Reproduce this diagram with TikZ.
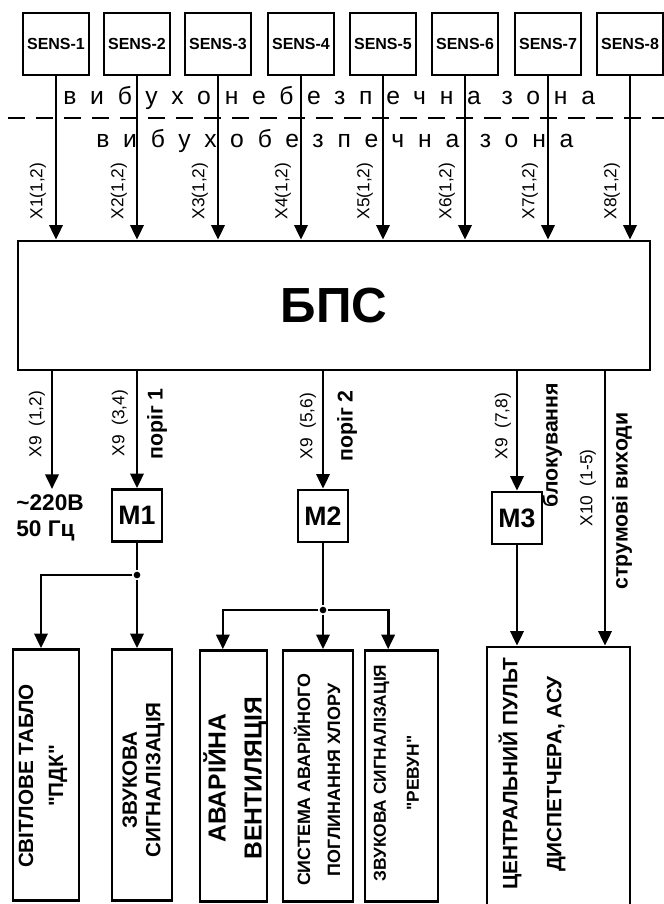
\documentclass[tikz,border=0pt]{standalone}
\usepackage{fontspec}
\setmainfont{Liberation Sans}
\newfontfamily\zonefont[LetterSpace=56]{Liberation Sans}
\usetikzlibrary{arrows.meta}

\begin{document}
\begin{tikzpicture}[
    x=0.75pt, y=-0.75pt, line width=2pt,
    sensor/.style={rectangle, draw, minimum width=49.5pt, minimum height=46.5pt, inner sep=0pt, font=\bfseries\fontsize{12}{14}\selectfont},
    unit/.style={rectangle, draw, minimum width=474pt, minimum height=96.75pt, font=\bfseries\fontsize{37}{40}\selectfont},
    module/.style={rectangle, draw, minimum width=37.5pt, minimum height=39pt, inner sep=0pt, font=\bfseries\fontsize{20}{22}\selectfont},
    output/.style={rectangle, draw, minimum height=188.25pt},
    zone/.style={anchor=base west, inner sep=0pt, font=\zonefont\fontsize{18.5}{20}\selectfont},
    boxtext/.style={rotate=90, align=center, inner sep=0pt},
    pin/.style={rotate=90, inner sep=0pt, font=\fontsize{13}{15}\selectfont},
    note/.style={rotate=90, inner sep=0pt, font=\bfseries\fontsize{16}{18}\selectfont},
    arrow/.style={-{Triangle[length=11pt, width=10pt]}},
    dot/.style={circle, fill, inner sep=0pt, minimum size=5pt}
]
    \useasboundingbox (0,0) rectangle (664,904);

    % Sensors
    \foreach \i/\x in {1/56, 2/137, 3/218, 4/301, 5/383, 6/465, 7/548, 8/630}{
        \node[sensor] (s\i) at (\x,44) {SENS-\i};
        \node[pin] (x\i) at (\x-18,191) {X\i(1,2)};
    }

    % Zone border
    \coordinate (zl) at (8,118);
    \coordinate (zr) at (664,118);
    \draw[dashed, dash pattern=on 13pt off 8pt, line width=1.8pt] (zl) -- (zr);
    \node[zone] (hazard) at (62,104) {вибухонебезпечна зона};
    \node[zone] (safe) at (95,147) {вибухобезпечна зона};

    % Main unit
    \node[unit] (bps) at (334,305.5) {БПС};
    \foreach \i in {1,...,8}
        \draw[arrow] (s\i) -- (s\i |- bps.north);

    % Modules
    \node[module] (m1) at (137,515.5) {M1};
    \node[module] (m2) at (323,516) {M2};
    \node[module] (m3) at (517,518) {M3};
    \node[align=left, anchor=north west, inner sep=0pt, font=\bfseries\fontsize{17}{20}\selectfont] (mains) at (15,493) {\textasciitilde220В\\50 Гц};
    \coordinate (c9) at (52,489);
    \coordinate (c10) at (605,489);

    \draw[arrow] (c9 |- bps.south) -- (c9);
    \draw[arrow] (m1 |- bps.south) -- (m1);
    \draw[arrow] (m2 |- bps.south) -- (m2);
    \draw[arrow] (m3 |- bps.south) -- (m3);

    \node[pin] (l1) at (37,424) {X9\ \ (1,2)};
    \node[pin] (l2) at (120,423) {X9\ \ (3,4)};
    \node[note] (n1) at (157,424) {поріг 1};
    \node[pin] (l3) at (308,426) {X9\ \ (5,6)};
    \node[note] (n2) at (347,426) {поріг 2};
    \node[pin] (l4) at (503,426) {X9\ \ (7,8)};
    \node[note] (n3) at (552,445) {блокування};
    \node[pin] (l5) at (588,488) {X10\ \ (1-5)};
    \node[note] (n4) at (622,501) {струмові виходи};

    % Outputs
    \node[output, minimum width=49.5pt] (o1) at (46,775) {};
    \node[output, minimum width=45pt] (o2) at (142,775) {};
    \node[output, minimum width=50.25pt] (o3) at (233.5,776) {};
    \node[output, minimum width=52.5pt] (o4) at (318,776) {};
    \node[output, minimum width=54.75pt] (o5) at (401.5,776) {};
    \node[output, minimum width=107.25pt, minimum height=201pt] (o6) at (558.5,781) {};

    \node[boxtext, font=\bfseries\fontsize{15.5}{22.5}\selectfont] (t1) at (43,776) {СВІТЛОВЕ ТАБЛО\\\textquotedbl ПДК\textquotedbl};
    \node[boxtext, font=\bfseries\fontsize{15.5}{17.5}\selectfont] (t2) at (143.5,780) {ЗВУКОВА\\СИГНАЛІЗАЦІЯ};
    \node[boxtext, font=\bfseries\fontsize{18.5}{27}\selectfont] (t3) at (235,778) {АВАРІЙНА\\ВЕНТИЛЯЦІЯ};
    \node[boxtext, font=\bfseries\fontsize{13.4}{22.5}\selectfont] (t4) at (317,780) {СИСТЕМА АВАРІЙНОГО\\ПОГЛИНАННЯ ХЛОРУ};
    \node[boxtext, font=\bfseries\fontsize{13}{24.75}\selectfont] (t5) at (396.5,773) {ЗВУКОВА СИГНАЛІЗАЦІЯ\\\textquotedbl РЕВУН\textquotedbl};
    \node[boxtext, font=\bfseries\fontsize{15.6}{33}\selectfont] (t6) at (532,774) {ЦЕНТРАЛЬНИЙ ПУЛЬТ\\ДИСПЕТЧЕРА, АСУ};

    % Branches
    \node[dot] (j1) at (137,575) {};
    \node[dot] (j2) at (323,610) {};
    \draw (m1) -- (j1);
    \draw[arrow] (j1) -| ([xshift=-3.75pt]o1.north);
    \draw[arrow] (j1) -- (j1 |- o2.north);
    \draw (m2) -- (j2);
    \draw[arrow] (j2) -| ([xshift=-8pt]o3.north);
    \draw[arrow] (j2) -- (j2 |- o4.north);
    \draw[arrow] (j2) -| ([xshift=-10pt]o5.north);
    \draw[arrow] (m3) -- (m3 |- o6.north);
    \draw[arrow] (c10 |- bps.south) -- (c10 |- o6.north);
\end{tikzpicture}
\end{document}
